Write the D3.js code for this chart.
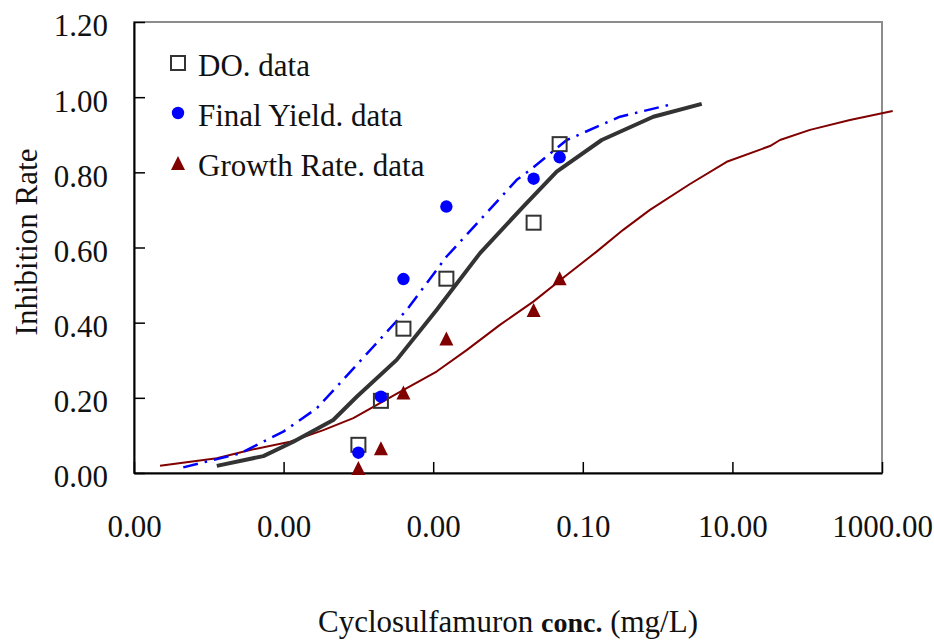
<!DOCTYPE html>
<html>
<head>
<meta charset="utf-8">
<script src="https://cdn.jsdelivr.net/npm/d3@7"></script>
<style>
    body { margin: 0; background: #fff; }
    text { font-family: "Liberation Serif", "Times New Roman", serif; fill: #111; }
</style>
</head>
<body>
<div id="plot"></div>
<script>
// measured points (same concentrations for all three series)
let concentrations = [0.0001, 0.0002, 0.0004, 0.0015, 0.022, 0.049];
let doData = [0.075, 0.192, 0.384, 0.517, 0.666, 0.875];
let yieldData = [0.054, 0.203, 0.516, 0.709, 0.783, 0.840];
let growthData = [0.013, 0.066, 0.214, 0.358, 0.434, 0.518];

// fitted curves
let doFitConc = [1.28e-6, 5.36e-6, 1.35e-5, 4.61e-5, 9.5e-5, 3.25e-4, 1.11e-3, 4.23e-3, 0.016, 0.0448, 0.179, 0.877, 3.89];
let doFitRate = [0.019, 0.045, 0.083, 0.141, 0.203, 0.301, 0.434, 0.585, 0.709, 0.802, 0.886, 0.948, 0.982];

let yieldFitConc = [4.56e-7, 2.61e-6, 9.9e-6, 2.77e-5, 5.68e-5, 1.58e-4, 4.43e-4, 1.51e-3, 4.23e-3, 0.0131, 0.0197, 0.061, 0.314, 1.39];
let yieldFitRate = [0.015, 0.052, 0.110, 0.172, 0.239, 0.336, 0.434, 0.576, 0.673, 0.780, 0.806, 0.886, 0.948, 0.979];

let growthFitConc = [2.23e-7, 1.28e-6, 3.56e-6, 1.22e-5, 3.40e-5, 8.55e-5, 3.6e-4, 1.11e-3, 2.8e-3, 7.8e-3, 0.0218, 0.061, 0.153, 0.347, 0.79, 2.71, 8.4, 31.8, 43.3, 109, 373, 1390];
let growthFitRate = [0.019, 0.039, 0.061, 0.083, 0.114, 0.146, 0.216, 0.270, 0.327, 0.394, 0.456, 0.527, 0.589, 0.647, 0.700, 0.769, 0.828, 0.870, 0.886, 0.913, 0.939, 0.963];

let xTicks = [1e-7, 1e-5, 1e-3, 0.1, 10, 1000];
let yTicks = [0, 0.2, 0.4, 0.6, 0.8, 1.0, 1.2];
let legendLabels = ["DO. data", "Final Yield. data", "Growth Rate. data"];

let width = 934;
let height = 641;
let plotLeft = 134, plotRight = 882, plotTop = 22, plotBottom = 473;

let svg = d3.select("#plot")
    .append("svg")
    .attr("width", width)
    .attr("height", height);

let xScale = d3.scaleLog()
    .domain([1e-7, 1000])
    .range([plotLeft, plotRight]);

let yScale = d3.scaleLinear()
    .domain([0, 1.2])
    .range([plotBottom, plotTop]);

// gray frame on top / right
svg.append("rect")
    .attr("x", plotLeft)
    .attr("y", plotTop)
    .attr("width", plotRight - plotLeft)
    .attr("height", plotBottom - plotTop)
    .style("fill", "none")
    .style("stroke", "#8c8c8c")
    .style("stroke-width", 2);

let xAxis = d3.axisBottom(xScale)
    .tickValues(xTicks)
    .tickFormat(d3.format(".2f"))
    .tickSizeInner(-11)
    .tickSizeOuter(0)
    .tickPadding(42);

let yAxis = d3.axisLeft(yScale)
    .tickValues(yTicks)
    .tickFormat(d3.format(".2f"))
    .tickSizeInner(-11)
    .tickSizeOuter(0)
    .tickPadding(26);

let gx = svg.append("g")
    .attr("transform", "translate(0," + plotBottom + ")")
    .call(xAxis);

let gy = svg.append("g")
    .attr("transform", "translate(" + plotLeft + ",0)")
    .call(yAxis);

[gx, gy].forEach(function (g) {
    g.select(".domain").style("stroke", "#000").style("stroke-width", 2);
    g.selectAll(".tick line").style("stroke", "#000").style("stroke-width", 1.5);
    g.selectAll("text")
        .style("font-family", "Liberation Serif, serif")
        .style("font-size", "31px")
        .style("fill", "#111");
});
gy.selectAll("text").attr("dy", "0.45em");

// axis titles
svg.append("text")
    .attr("transform", "translate(37,242) rotate(-90)")
    .style("text-anchor", "middle")
    .style("font-size", "31px")
    .text("Inhibition Rate");

let xTitle = svg.append("text")
    .attr("x", 508)
    .attr("y", 632)
    .style("text-anchor", "middle")
    .style("font-size", "31px");
xTitle.append("tspan").text("Cyclosulfamuron ");
xTitle.append("tspan").style("font-weight", "bold").style("font-size", "28px").text("conc.");
xTitle.append("tspan").text(" (mg/L)");

// fitted curves
function curve(concs, rates, color, strokeWidth, dash) {
    let line = d3.line()
        .x(function (d) { return xScale(d[0]); })
        .y(function (d) { return yScale(d[1]); });
    svg.append("path")
        .datum(d3.zip(concs, rates))
        .attr("d", line)
        .style("fill", "none")
        .style("stroke", color)
        .style("stroke-width", strokeWidth)
        .style("stroke-linejoin", "round")
        .style("stroke-dasharray", dash);
}

curve(growthFitConc, growthFitRate, "#800000", 2, null);
curve(doFitConc, doFitRate, "#333333", 4, null);
curve(yieldFitConc, yieldFitRate, "#0000ff", 2.5, "15,7,2.5,7");

// markers
function square(g, x, y) {
    g.append("rect")
        .attr("x", x - 7)
        .attr("y", y - 7)
        .attr("width", 14)
        .attr("height", 14)
        .style("fill", "none")
        .style("stroke", "#333333")
        .style("stroke-width", 2);
}

function circle(g, x, y) {
    g.append("circle")
        .attr("cx", x)
        .attr("cy", y)
        .attr("r", 6.2)
        .style("fill", "#0000ff");
}

function triangle(g, x, y) {
    let s = 14;
    g.append("path")
        .attr("d", "M" + x + "," + (y - s / 2) + "L" + (x + s / 2) + "," + (y + s / 2) + "L" + (x - s / 2) + "," + (y + s / 2) + "Z")
        .style("fill", "#800000");
}

let markers = svg.append("g");
concentrations.forEach(function (c, i) {
    square(markers, xScale(c), yScale(doData[i]));
    triangle(markers, xScale(c), yScale(growthData[i]));
    circle(markers, xScale(c), yScale(yieldData[i]));
});

// legend
let legend = svg.append("g");
let legendDraw = [square, circle, triangle];
legendLabels.forEach(function (label, i) {
    let baseline = 76 + i * 50;
    legendDraw[i](legend, 178, baseline - 13);
    legend.append("text")
        .attr("x", 198)
        .attr("y", baseline)
        .style("font-size", "31px")
        .text(label);
});
</script>
</body>
</html>
